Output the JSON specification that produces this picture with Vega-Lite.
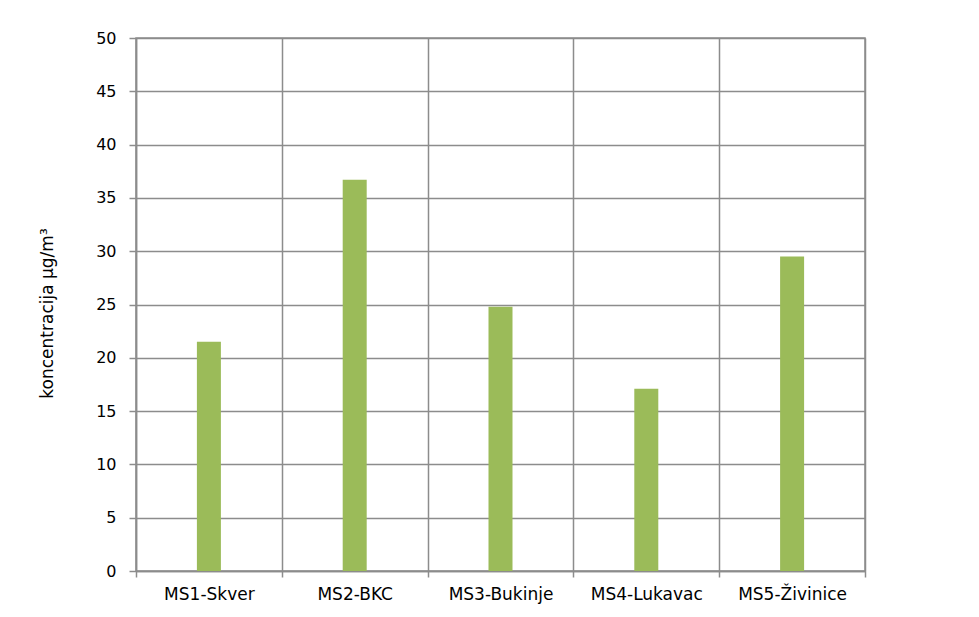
{
  "$schema": "https://vega.github.io/schema/vega-lite/v6.json",
  "autosize": "none",
  "width": 729,
  "height": 533,
  "padding": {"left": 136, "top": 38, "right": 114, "bottom": 46},
  "background": "white",
  "data": {
    "values": [
      {"stanica": "MS1-Skver", "koncentracija": 21.5},
      {"stanica": "MS2-BKC", "koncentracija": 36.7},
      {"stanica": "MS3-Bukinje", "koncentracija": 24.8},
      {"stanica": "MS4-Lukavac", "koncentracija": 17.1},
      {"stanica": "MS5-Živinice", "koncentracija": 29.5}
    ]
  },
  "config": {
    "view": {"stroke": "#8c8c8c", "strokeWidth": 1.5},
    "axis": {
      "labelFont": "DejaVu Sans",
      "titleFont": "DejaVu Sans",
      "labelColor": "#000000",
      "titleColor": "#000000",
      "domainColor": "#8c8c8c",
      "tickColor": "#8c8c8c",
      "gridColor": "#8c8c8c",
      "gridOpacity": 1,
      "domainWidth": 1.5,
      "tickWidth": 1.5,
      "gridWidth": 1.5
    }
  },
  "mark": {"type": "bar", "color": "#9BBB59", "width": 24},
  "encoding": {
    "x": {
      "field": "stanica",
      "type": "nominal",
      "sort": null,
      "scale": {"paddingInner": 0, "paddingOuter": 0},
      "axis": {
        "title": null,
        "labelAngle": 0,
        "labelFontSize": 17,
        "labelPadding": 9,
        "tickSize": 6,
        "tickBand": "extent",
        "grid": true
      }
    },
    "y": {
      "field": "koncentracija",
      "type": "quantitative",
      "scale": {"domain": [0, 50], "nice": false},
      "axis": {
        "title": "koncentracija µg/m³",
        "values": [0, 5, 10, 15, 20, 25, 30, 35, 40, 45, 50],
        "labelFontSize": 16,
        "labelPadding": 13,
        "tickSize": 7,
        "titleFontSize": 17,
        "titleFontWeight": "normal",
        "titleAngle": -90,
        "titleX": -89,
        "titleY": 275,
        "titleAlign": "center",
        "titleBaseline": "middle",
        "grid": true
      }
    }
  }
}
